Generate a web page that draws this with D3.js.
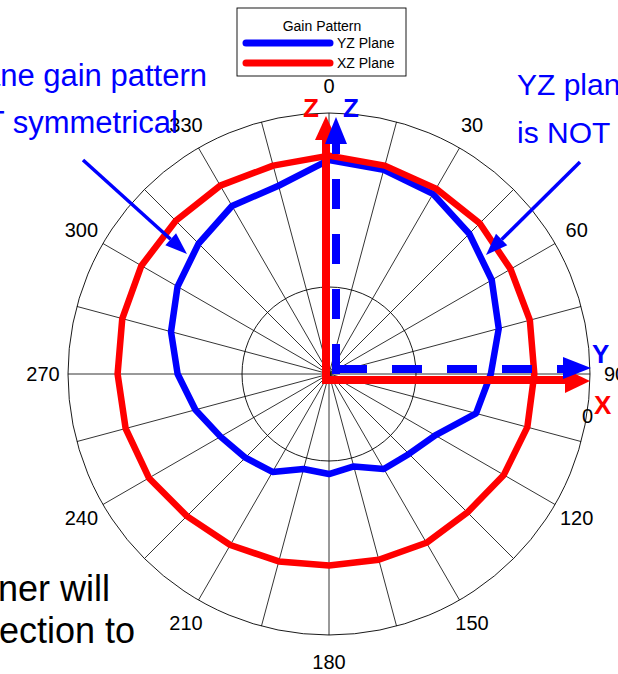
<!DOCTYPE html>
<html>
<head>
<meta charset="utf-8" />
<title>Gain Pattern</title>
<style>
  body { margin: 0; background: #fff; overflow: hidden; }
  svg { display: block; font-family: "Liberation Sans", Arial, sans-serif; }
</style>
</head>
<body>
<script src="https://d3js.org/d3.v7.min.js"></script>
<script>

// angles in degrees, 0 at top, clockwise
var angles = [0, 15, 30, 45, 60, 75, 90, 105, 120, 135, 150, 165,
              180, 195, 210, 225, 240, 255, 270, 285, 300, 315, 330, 345];

// gain in dB (outer ring = 0)
var yzPlane = [-5.4, -5.7, -6.1, -7.2, -8.4, -9.8, -11.4, -12.5, -15.9, -17.0, -17.4, -19.0,
               -18.5, -18.7, -17.0, -16.4, -15.6, -14.1, -12.6, -11.2, -9.9, -8.8, -7.7, -7.6];
var xzPlane = [-4.9, -5.2, -5.4, -5.5, -5.9, -6.1, -6.4, -6.4, -6.8, -7.5, -7.6, -7.9,
               -8.0, -7.7, -7.3, -6.9, -6.1, -5.8, -5.7, -5.4, -5.1, -5.1, -5.0, -5.2];

var angleLabels = [0, 30, 60, 90, 120, 150, 180, 210, 240, 270, 300, 330];
var spokeAngles = d3.range(0, 360, 15);
var rings = [-20, 0];
var seriesNames = ["YZ Plane", "XZ Plane"];

var width = 618, height = 674;
var cx = 329, cy = 374, R = 261;
var blue = "#0000ff", red = "#ff0000";

var svg = d3.select("body").append("svg")
    .attr("width", width)
    .attr("height", height);

var rScale = d3.scaleLinear().domain([-30, 0]).range([0, R]);
var rad = d => d * Math.PI / 180;

var g = svg.append("g").attr("transform", "translate(" + cx + "," + cy + ")");

// grid
g.selectAll(".spoke").data(spokeAngles).enter().append("line")
    .attr("x1", 0).attr("y1", 0)
    .attr("x2", d => R * Math.sin(rad(d)))
    .attr("y2", d => -R * Math.cos(rad(d)))
    .attr("stroke", "#000").attr("stroke-width", 0.8);

g.selectAll(".ring").data(rings).enter().append("circle")
    .attr("r", d => rScale(d))
    .attr("fill", "none").attr("stroke", "#000").attr("stroke-width", 0.9);

g.selectAll(".alabel").data(angleLabels).enter().append("text")
    .attr("x", d => 286 * Math.sin(rad(d)))
    .attr("y", d => -288 * Math.cos(rad(d)) + 7)
    .attr("text-anchor", "middle")
    .attr("font-size", 20)
    .text(d => d);

// curves
var line = d3.lineRadial()
    .angle(d => rad(d[0]))
    .radius(d => rScale(d[1]))
    .curve(d3.curveLinearClosed);

g.append("path")
    .datum(angles.map((a, i) => [a, yzPlane[i]]))
    .attr("d", line)
    .attr("fill", "none").attr("stroke", blue).attr("stroke-width", 6.5)
    .attr("stroke-linejoin", "round");

g.append("path")
    .datum(angles.map((a, i) => [a, xzPlane[i]]))
    .attr("d", line)
    .attr("fill", "none").attr("stroke", red).attr("stroke-width", 6.5)
    .attr("stroke-linejoin", "round");

// axis arrows
function arrowHead(tipX, tipY, dir, len, half, color){
    var pts;
    if(dir == "up") pts = [[tipX, tipY], [tipX - half, tipY + len], [tipX + half, tipY + len]];
    else pts = [[tipX, tipY], [tipX - len, tipY - half], [tipX - len, tipY + half]];
    g.append("polygon")
        .attr("points", pts.map(p => p.join(",")).join(" "))
        .attr("fill", color);
}

// red Z and X
g.append("line")
    .attr("x1", -3).attr("y1", 9).attr("x2", -3).attr("y2", -R + 24)
    .attr("stroke", red).attr("stroke-width", 8);
arrowHead(-3, -R + 3, "up", 24, 11, red);
g.append("line")
    .attr("x1", -7).attr("y1", 6).attr("x2", R - 22).attr("y2", 6)
    .attr("stroke", red).attr("stroke-width", 8);
arrowHead(R, 7, "right", 25, 12, red);

// blue Z and Y (dashed)
g.append("line")
    .attr("x1", 7).attr("y1", 0).attr("x2", 7).attr("y2", -R + 28)
    .attr("stroke", blue).attr("stroke-width", 8)
    .attr("stroke-dasharray", "30,25");
arrowHead(7, -R + 4, "up", 27, 11, blue);
g.append("line")
    .attr("x1", 0).attr("y1", -5).attr("x2", R - 27).attr("y2", -5)
    .attr("stroke", blue).attr("stroke-width", 8)
    .attr("stroke-dasharray", "30,25")
    .attr("stroke-dashoffset", -8);
arrowHead(R + 1, -6, "right", 28, 11, blue);

svg.append("text").attr("x", 311).attr("y", 117).attr("text-anchor", "middle")
    .attr("font-size", 26).attr("font-weight", "bold").attr("fill", red).text("Z");
svg.append("text").attr("x", 351).attr("y", 117).attr("text-anchor", "middle")
    .attr("font-size", 26).attr("font-weight", "bold").attr("fill", blue).text("Z");
svg.append("text").attr("x", 592).attr("y", 363)
    .attr("font-size", 26).attr("font-weight", "bold").attr("fill", blue).text("Y");
svg.append("text").attr("x", 594).attr("y", 414)
    .attr("font-size", 26).attr("font-weight", "bold").attr("fill", red).text("X");
svg.append("text").attr("x", 582).attr("y", 423)
    .attr("font-size", 20).text("0");

// callouts
function callout(x1, y1, x2, y2){
    var a = Math.atan2(y2 - y1, x2 - x1), len = 22, half = 8;
    var bx = x2 - len * Math.cos(a), by = y2 - len * Math.sin(a);
    svg.append("line")
        .attr("x1", x1).attr("y1", y1).attr("x2", bx).attr("y2", by)
        .attr("stroke", blue).attr("stroke-width", 3.5);
    svg.append("polygon")
        .attr("points", [[x2, y2],
            [bx + half * Math.sin(a), by - half * Math.cos(a)],
            [bx - half * Math.sin(a), by + half * Math.cos(a)]].map(p => p.join(",")).join(" "))
        .attr("fill", blue);
}
callout(83, 160, 187, 254);
callout(580, 162, 486, 255);

var leftNote = svg.append("text").attr("font-size", 31).attr("fill", blue).attr("text-anchor", "end");
leftNote.append("tspan").attr("x", 207).attr("y", 86).text("YZ plane gain pattern");
leftNote.append("tspan").attr("x", 178).attr("y", 133).text("is NOT symmetrical");

var rightNote = svg.append("text").attr("font-size", 30).attr("fill", blue);
rightNote.append("tspan").attr("x", 517).attr("y", 95).text("YZ plane gain pattern");
rightNote.append("tspan").attr("x", 517).attr("y", 143).text("is NOT symmetrical");

var bottomNote = svg.append("text").attr("font-size", 36).attr("fill", "#000");
bottomNote.append("tspan").attr("x", -2).attr("y", 601).text("ner will");
bottomNote.append("tspan").attr("x", -1).attr("y", 643).text("ection to");

// legend
var legend = svg.append("g").attr("transform", "translate(237,8)");
legend.append("rect")
    .attr("width", 169).attr("height", 68)
    .attr("fill", "#fff").attr("stroke", "#000").attr("stroke-width", 0.9);
legend.append("text").attr("x", 85).attr("y", 23).attr("text-anchor", "middle")
    .attr("font-size", 14).text("Gain Pattern");
legend.selectAll(".item").data(seriesNames).enter().append("g")
    .attr("transform", (d, i) => "translate(0," + (35 + i * 20) + ")")
    .each(function(d, i){
        var item = d3.select(this);
        item.append("line")
            .attr("x1", 9).attr("x2", 93).attr("y1", 0).attr("y2", 0)
            .attr("stroke", i == 0 ? blue : red).attr("stroke-width", 7)
            .attr("stroke-linecap", "round");
        item.append("text").attr("x", 100).attr("y", 5)
            .attr("font-size", 14).text(d);
    });

</script>
</body>
</html>
